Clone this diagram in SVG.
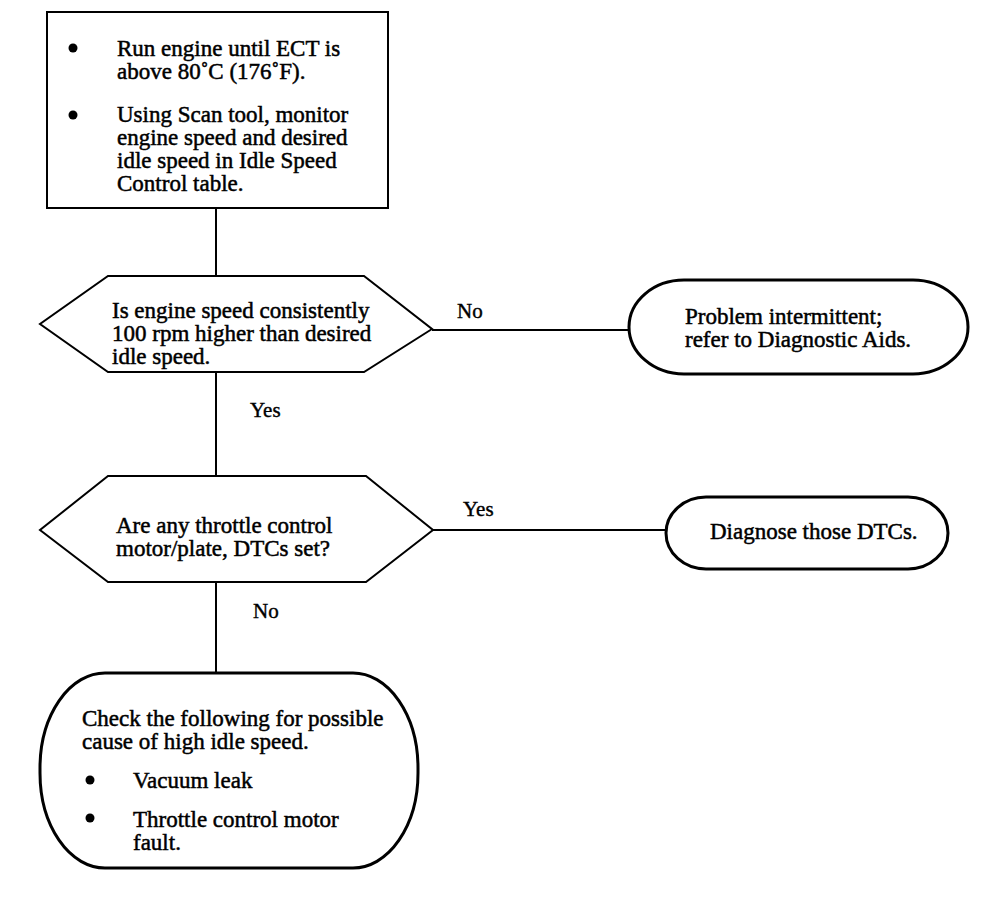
<svg xmlns="http://www.w3.org/2000/svg" width="1008" height="904" viewBox="0 0 1008 904">
<style>
.t{font-family:"Liberation Serif","Times New Roman",serif;font-size:23px;fill:#000;stroke:#000;stroke-width:0.5}
.l{font-family:"Liberation Serif","Times New Roman",serif;font-size:21px;fill:#000;stroke:#000;stroke-width:0.4}
.b{fill:#fff;stroke:#000;stroke-width:2}
.o{fill:#fff;stroke:#000;stroke-width:3}
.c{fill:none;stroke:#000;stroke-width:2}
</style>
<rect width="1008" height="904" fill="#fff"/>
<g id="connectors">
<line class="c" x1="216" y1="208" x2="216" y2="276"/>
<line class="c" x1="216" y1="372" x2="216" y2="476"/>
<line class="c" x1="216" y1="582" x2="216" y2="672"/>
<line class="c" x1="432" y1="330" x2="630" y2="330"/>
<line class="c" x1="433" y1="530" x2="666" y2="530"/>
<text class="l" x="457" y="318">No</text>
<text class="l" x="250" y="417">Yes</text>
<text class="l" x="463" y="516">Yes</text>
<text class="l" x="253" y="618">No</text>
</g>
<g id="start">
<rect class="b" x="47" y="12" width="341" height="196"/>
<circle cx="73" cy="48" r="4.5"/>
<circle cx="73" cy="115" r="4.5"/>
<text class="t" x="117" y="56">Run engine until ECT is</text>
<text class="t" x="117" y="79">above 80˚C (176˚F).</text>
<text class="t" x="117" y="122">Using Scan tool, monitor</text>
<text class="t" x="117" y="145">engine speed and desired</text>
<text class="t" x="117" y="168">idle speed in Idle Speed</text>
<text class="t" x="117" y="191">Control table.</text>
</g>
<g id="decision1">
<polygon class="b" points="108,276 364,276 432,329 364,372 108,372 40,324"/>
<text class="t" x="112" y="318">Is engine speed consistently</text>
<text class="t" x="112" y="341">100 rpm higher than desired</text>
<text class="t" x="112" y="364">idle speed.</text>
</g>
<g id="intermittent">
<rect class="o" x="629" y="280" width="339" height="94" rx="55" ry="47"/>
<text class="t" x="685" y="324">Problem intermittent;</text>
<text class="t" x="685" y="347">refer to Diagnostic Aids.</text>
</g>
<g id="decision2">
<polygon class="b" points="108,476 366,476 433,530 366,582 108,582 40,530"/>
<text class="t" x="116" y="533">Are any throttle control</text>
<text class="t" x="116" y="556">motor/plate, DTCs set?</text>
</g>
<g id="diagnose">
<rect class="o" x="666" y="497" width="282" height="72" rx="40" ry="36"/>
<text class="t" x="710" y="539">Diagnose those DTCs.</text>
</g>
<g id="check">
<rect class="o" x="40" y="673" width="378" height="195" rx="65" ry="95"/>
<text class="t" x="82" y="726">Check the following for possible</text>
<text class="t" x="82" y="749">cause of high idle speed.</text>
<circle cx="90" cy="780" r="4.5"/>
<text class="t" x="133" y="788">Vacuum leak</text>
<circle cx="90" cy="818" r="4.5"/>
<text class="t" x="133" y="827">Throttle control motor</text>
<text class="t" x="133" y="850">fault.</text>
</g>
</svg>
